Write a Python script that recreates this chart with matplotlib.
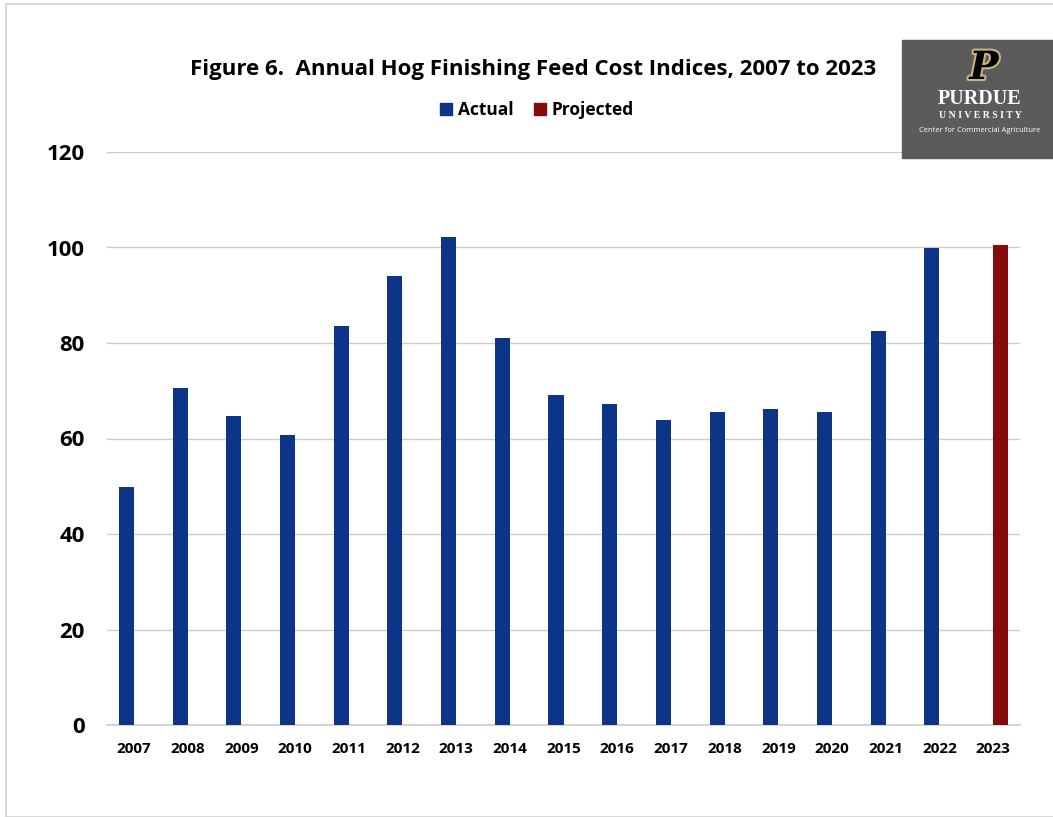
import matplotlib.pyplot as plt
import matplotlib.patheffects as pe
from matplotlib.patches import Rectangle, Patch

# data
years = ['2007', '2008', '2009', '2010', '2011', '2012', '2013', '2014', '2015',
         '2016', '2017', '2018', '2019', '2020', '2021', '2022', '2023']
actual = [49.8, 70.6, 64.7, 60.7, 83.6, 94.0, 102.2, 81.0, 69.1,
          67.2, 63.9, 65.5, 66.2, 65.5, 82.5, 99.9, 0]
projected = [0] * 16 + [100.5]

blue = '#0c3587'
red = '#870b0b'

plt.rcParams['font.family'] = ['Open Sans', 'DejaVu Sans']

fig = plt.figure(figsize=(10.53, 8.17), dpi=100)
ax = fig.add_axes([107 / 1053, (817 - 725) / 817, (1020 - 107) / 1053, (725 - 152) / 817])

x = list(range(len(years)))
w = 0.28
ax.bar([i - w / 2 for i in x], actual, width=w, color=blue, zorder=3, label='Actual')
ax.bar([i + w / 2 for i in x], projected, width=w, color=red, zorder=3, label='Projected')

ax.set_xlim(-0.5, len(years) - 0.5)
ax.set_ylim(0, 120)
ax.set_yticks(range(0, 121, 20))
ax.set_xticks(x)
ax.set_xticklabels(years, fontsize=11, fontweight='bold')
for t in ax.get_yticklabels():
    t.set_fontsize(16)
    t.set_fontweight('bold')
ax.tick_params(axis='both', length=0)
ax.tick_params(axis='y', pad=16)
ax.tick_params(axis='x', pad=12)
ax.grid(axis='y', color='#cccccc', linewidth=1, zorder=0)
for s in ['top', 'right', 'left']:
    ax.spines[s].set_visible(False)
ax.spines['bottom'].set_color('#cccccc')
ax.spines['bottom'].set_linewidth(1.2)

fig.text(533 / 1053, 1 - 69 / 817, 'Figure 6.  Annual Hog Finishing Feed Cost Indices, 2007 to 2023',
         ha='center', va='center', fontsize=16, fontweight='bold')

handles = [Patch(color=blue, label='Actual'), Patch(color=red, label='Projected')]
fig.legend(handles=handles, loc='center', bbox_to_anchor=(537 / 1053, 1 - 110 / 817), ncol=2,
           frameon=False, prop={'size': 12.5, 'weight': 'bold'}, handlelength=0.7,
           handleheight=0.7, handletextpad=0.3, columnspacing=1.2)

# outer border
fig.patches.append(Rectangle((6 / 1053, 0), 1.2, 1 - 4 / 817, transform=fig.transFigure,
                             fill=False, edgecolor='#d9d9d9', linewidth=1.5))

# Purdue logo box
fig.patches.append(Rectangle((902 / 1053, 1 - 158 / 817), 151 / 1053, 118 / 817,
                             transform=fig.transFigure, color='#5b5b5b', zorder=5))
fig.text(984 / 1053, 1 - 68 / 817, 'P', ha='center', va='center', fontsize=28,
         fontweight='bold', family='DejaVu Serif', style='italic', color='black', zorder=6,
         path_effects=[pe.withStroke(linewidth=3, foreground='#c9b27c')])
fig.text(979 / 1053, 1 - 99 / 817, 'PURDUE', ha='center', va='center', fontsize=14.5,
         family='Liberation Serif', fontweight='bold', color='white', zorder=6)
fig.text(980 / 1053, 1 - 115 / 817, 'U N I V E R S I T Y', ha='center', va='center', fontsize=7,
         family='Liberation Serif', fontweight='bold', color='white', zorder=6)
fig.text(980 / 1053, 1 - 131 / 817, 'Center for Commercial Agriculture', ha='center', va='center',
         fontsize=5.5, color='white', zorder=6)

fig.savefig('out.png', dpi=100)
